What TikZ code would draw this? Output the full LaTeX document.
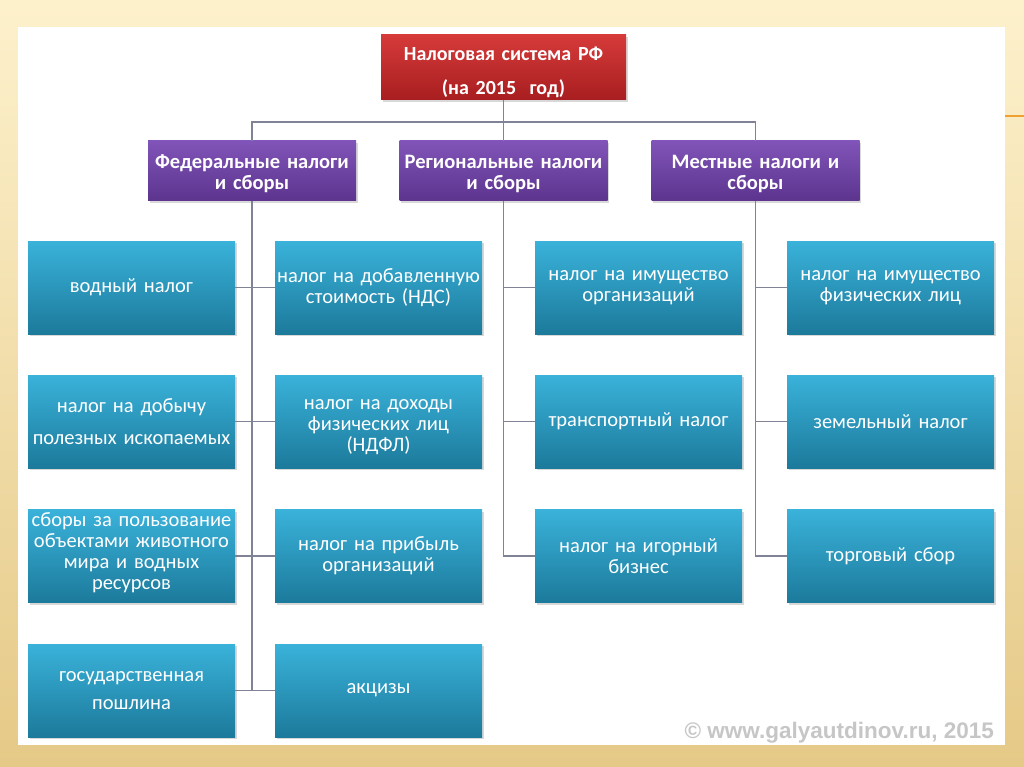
\documentclass[tikz,border=0pt]{standalone}
\usepackage{fontspec}
\setmainfont{Carlito}
\newfontfamily\boxfont[WordSpace=0.6]{Carlito}
\newfontfamily\headfont[WordSpace=0.75]{Carlito}
\newfontfamily\wmfont{Liberation Sans}
\usetikzlibrary{shadows}
\definecolor{frameTop}{RGB}{253,241,204}
\definecolor{frameBot}{RGB}{229,201,135}
\definecolor{bTop}{RGB}{58,178,218}
\definecolor{bBot}{RGB}{28,122,155}
\definecolor{pTop}{RGB}{128,84,184}
\definecolor{pBot}{RGB}{92,52,142}
\definecolor{rTop}{RGB}{214,58,58}
\definecolor{rBot}{RGB}{168,30,32}
\definecolor{lineC}{RGB}{128,130,150}
\definecolor{orangeC}{RGB}{240,160,50}
\tikzset{
  shad/.style={drop shadow={opacity=0.3, shadow xshift=1.5pt, shadow yshift=-2pt}},
  box/.style={rectangle, shad, minimum width=207pt, minimum height=93pt, inner sep=0pt,
    text width=207pt, align=center, top color=bTop, bottom color=bBot, text=white,
    font=\boxfont\fontsize{20.5}{21}\selectfont},
  headbox/.style={rectangle, shad, minimum width=208pt, minimum height=60pt, inner sep=0pt,
    text width=208pt, align=center, top color=pTop, bottom color=pBot, text=white,
    font=\headfont\bfseries\fontsize{20.5}{21}\selectfont},
  topbox/.style={rectangle, shad, minimum width=245pt, minimum height=65pt, inner sep=0pt,
    text width=245pt, align=center, top color=rTop, bottom color=rBot, text=white,
    font=\headfont\bfseries\fontsize{20}{21}\selectfont},
  conn/.style={draw=lineC, line width=1.1pt},
}
\begin{document}
\begin{tikzpicture}[x=1pt,y=-1pt]
\useasboundingbox (0,0) rectangle (1024,767);
\shade[top color=frameTop, bottom color=frameBot] (0,0) rectangle (1024,767);
\fill[white] (18,27) rectangle (1005,745);
\coordinate (o1) at (1005,116);
\coordinate (o2) at (1024,116);
\draw[orangeC, line width=2pt] (o1) -- (o2);

% top and headers
\node[topbox] (top) at (503.5,67.5) {\rule{0pt}{24pt}Налоговая система РФ\\[13pt](на 2015~ год)};
\node[headbox] (fed) at (252,171) {\rule{0pt}{19pt}Федеральные налоги\\и сборы};
\node[headbox] (reg) at (503.5,171) {\rule{0pt}{19pt}Региональные налоги\\и сборы};
\node[headbox] (loc) at (755.5,171) {\rule{0pt}{19pt}Местные налоги и\\сборы};

% federal left column
\node[box] (f1) at (131.5,287.5) {водный налог};
\node[box] (f2) at (131.5,421.5) {налог на добычу\\[11pt]полезных ископаемых};
\node[box] (f3) at (131.5,556) {сборы за пользование\\объектами животного\\мира и водных\\ресурсов\rule[-10pt]{0pt}{0pt}};
\node[box] (f4) at (131.5,690.5) {государственная\\[7pt]пошлина};
% federal right column
\node[box] (g1) at (378.5,287.5) {налог на добавленную\\стоимость (НДС)};
\node[box] (g2) at (378.5,421.5) {\rule{0pt}{22pt}налог на доходы\\физических лиц\\(НДФЛ)};
\node[box] (g3) at (378.5,556) {налог на прибыль\\организаций};
\node[box] (g4) at (378.5,690.5) {акцизы};
% regional
\node[box] (r1) at (638.5,287.5) {налог на имущество\\организаций};
\node[box] (r2) at (638.5,421.5) {транспортный налог};
\node[box] (r3) at (638.5,556) {налог на игорный\\бизнес};
% local
\node[box] (l1) at (890.5,287.5) {налог на имущество\\физических лиц};
\node[box] (l2) at (890.5,421.5) {земельный налог};
\node[box] (l3) at (890.5,556) {торговый сбор};

% connectors top level
\coordinate (bus) at (0,122);
\draw[conn] (top.south) -- (reg.north);
\draw[conn] (fed.north) |- (loc.north |- bus) -- (loc.north);

% federal
\draw[conn] (fed.south) -- (fed.south |- f4.east);
\draw[conn] (f1.east) -- (g1.west);
\draw[conn] (f2.east) -- (g2.west);
\draw[conn] (f3.east) -- (g3.west);
\draw[conn] (f4.east) -- (g4.west);
% regional
\draw[conn] (reg.south) |- (r3.west);
\draw[conn] (reg.south |- r1.west) -- (r1.west);
\draw[conn] (reg.south |- r2.west) -- (r2.west);
% local
\draw[conn] (loc.south) |- (l3.west);
\draw[conn] (loc.south |- l1.west) -- (l1.west);
\draw[conn] (loc.south |- l2.west) -- (l2.west);

% watermark
\node[font=\wmfont\bfseries\fontsize{22.5}{26}\selectfont, text=gray!45, anchor=east, inner sep=0pt] (wm) at (994,733) {© www.galyautdinov.ru, 2015};
\end{tikzpicture}
\end{document}
